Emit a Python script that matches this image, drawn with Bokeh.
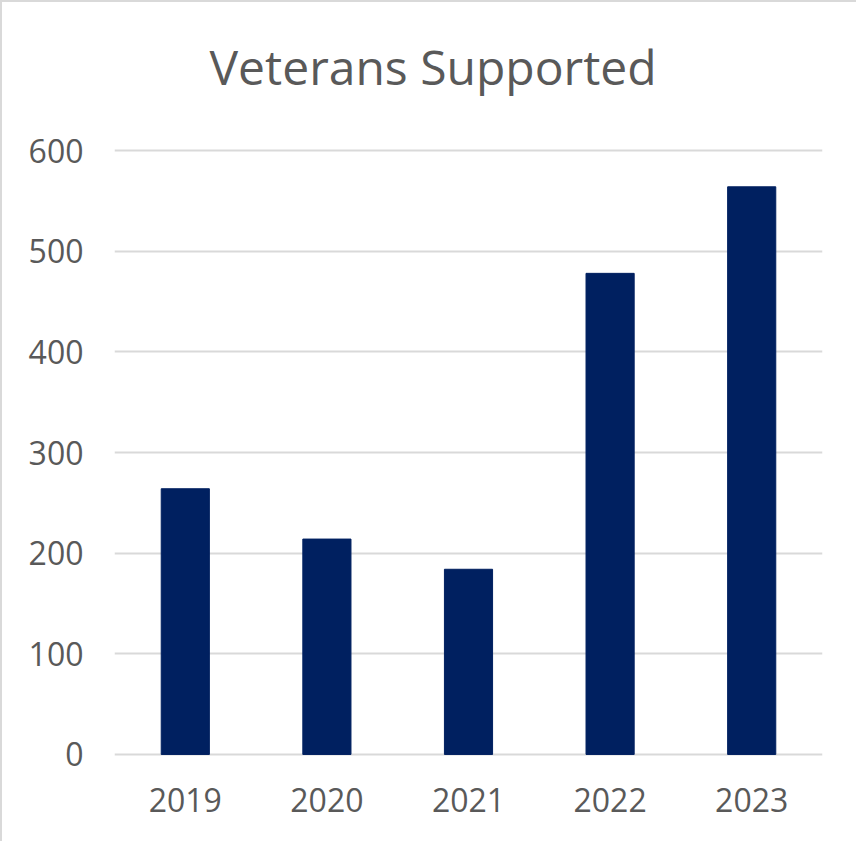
from bokeh.plotting import figure
from bokeh.models import Range1d, FactorRange, Title
from bokeh.embed import file_html
from bokeh.resources import INLINE

years = ["2019", "2020", "2021", "2022", "2023"]
veterans = [264, 214, 184, 478, 564]
y_ticks = [0, 100, 200, 300, 400, 500, 600]
title_text = "Veterans Supported"

TEXT = "#595959"
GRID = "#d9d9d9"
BAR = "#002060"

p = figure(x_range=FactorRange(*years), y_range=Range1d(-6, 610),
           width=856, height=841, output_backend="svg", toolbar_location=None,
           min_border_left=112, min_border_right=36, min_border_top=138, min_border_bottom=83)
p.styles = {"border-left": "2px solid #d9d9d9", "border-top": "2px solid #d9d9d9"}

p.vbar(x=years, top=veterans, width=0.34, color=BAR)

# spacer (closest to the frame), then the visible title above it
spacer = Title(text=" ", text_font_size="10px", standoff=29)
p.add_layout(spacer, "above")
main_title = Title(text=title_text, text_font="Open Sans", text_font_size="48px",
                   text_font_style="normal", text_color=TEXT, align="left",
                   offset=95, standoff=0)
p.add_layout(main_title, "above")

p.outline_line_color = None
p.xgrid.grid_line_color = None
p.ygrid.grid_line_color = GRID
p.ygrid.grid_line_width = 2
p.yaxis.ticker = y_ticks

for ax in (p.xaxis[0], p.yaxis[0]):
    ax.axis_line_color = None
    ax.major_tick_line_color = None
    ax.minor_tick_line_color = None
    ax.major_label_text_font = "Open Sans"
    ax.major_label_text_font_size = "32px"
    ax.major_label_text_color = TEXT
p.yaxis.major_label_standoff = 25
p.xaxis.major_label_standoff = 21
p.x_range.range_padding = 0
p.x_range.group_padding = 0

open("out.html", "w").write(file_html(p, INLINE))
